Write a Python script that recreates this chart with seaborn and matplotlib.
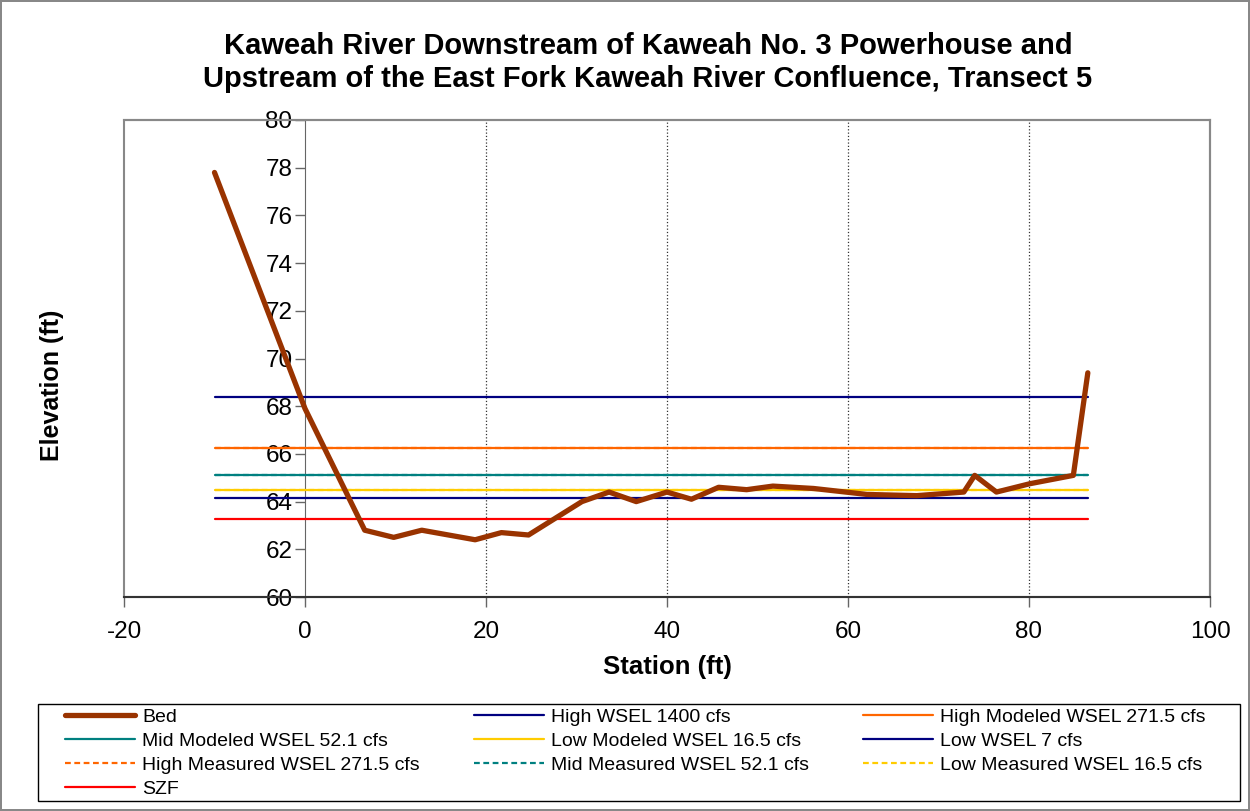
import matplotlib
matplotlib.use("Agg")
import matplotlib.pyplot as plt
from matplotlib.patches import Rectangle
import seaborn as sns
import pandas as pd

# ---- data ----
bed_station = [-10.0, 0.0, 6.6, 9.8, 12.9, 18.8, 21.7, 24.7, 30.6, 33.6, 36.6, 40.0,
               42.7, 45.7, 48.8, 51.7, 56.2, 62.1, 67.6, 72.8, 74.0, 76.4, 80.1, 84.9, 86.5]
bed_elev = [77.8, 67.9, 62.8, 62.5, 62.8, 62.4, 62.7, 62.6, 64.0, 64.4, 64.0, 64.4,
            64.1, 64.6, 64.5, 64.65, 64.55, 64.3, 64.25, 64.4, 65.1, 64.4, 64.75, 65.1, 69.4]
wsel_station = [-10.0, 86.5]
high_wsel_1400 = 68.4
high_modeled_271 = 66.25
mid_modeled_52 = 65.1
low_modeled_16 = 64.5
low_wsel_7 = 64.15
high_measured_271 = 66.25
mid_measured_52 = 65.1
low_measured_16 = 64.5
szf = 63.25

series = [
    ("Bed", None, "#993300", "-", 3.8),
    ("High WSEL 1400 cfs", high_wsel_1400, "#000080", "-", 1.6),
    ("High Modeled WSEL 271.5 cfs", high_modeled_271, "#FF6600", "-", 1.6),
    ("Mid Modeled WSEL 52.1 cfs", mid_modeled_52, "#008080", "-", 1.6),
    ("Low Modeled WSEL 16.5 cfs", low_modeled_16, "#FFCC00", "-", 1.6),
    ("Low WSEL 7 cfs", low_wsel_7, "#000080", "-", 1.6),
    ("High Measured WSEL 271.5 cfs", high_measured_271, "#FF6600", "--", 1.6),
    ("Mid Measured WSEL 52.1 cfs", mid_measured_52, "#008080", "--", 1.6),
    ("Low Measured WSEL 16.5 cfs", low_measured_16, "#FFCC00", "--", 1.6),
    ("SZF", szf, "#FF0000", "-", 1.6),
]

sns.set_style("white")
plt.rcParams["font.family"] = ["Liberation Sans", "DejaVu Sans"]
plt.rcParams["axes.unicode_minus"] = False
plt.rcParams["text.color"] = "black"
plt.rcParams["xtick.color"] = "black"
plt.rcParams["ytick.color"] = "black"

W, H = 1250, 811
fig = plt.figure(figsize=(12.5, 8.11), dpi=100)
fig.patch.set_edgecolor("#888888")
fig.patch.set_linewidth(1.5)
ax = fig.add_axes([124 / W, 1 - 597 / H, (1210 - 124) / W, (597 - 120) / H])

handles = {}
for name, val, color, ls, lw in series:
    if val is None:
        df = pd.DataFrame({"x": bed_station, "y": bed_elev})
    else:
        df = pd.DataFrame({"x": wsel_station, "y": [val, val]})
    sns.lineplot(data=df, x="x", y="y", ax=ax, color=color, linestyle=ls,
                 linewidth=lw, sort=False, estimator=None, label=name, legend=False,
                 zorder=5 if val is None else 3)
    line = ax.lines[-1]
    if ls == "--":
        line.set_dashes((2.6, 1.6))
    handles[name] = line

ax.set_xlim(-20, 100)
ax.set_ylim(60, 80)
ax.set_xticks(range(-20, 101, 20))
ax.set_yticks(range(60, 81, 2))
ax.tick_params(axis="both", labelsize=17.5, length=7, width=1, color="#666666",
               labelcolor="black", direction="out", left=True, bottom=True, pad=2)
ax.tick_params(axis="x", pad=10)

ax.spines["left"].set_position(("data", 0))
ax.spines["left"].set_color("#666666")
ax.spines["bottom"].set_color("#333333")
ax.spines["bottom"].set_linewidth(1.5)
for s in ["top", "right"]:
    ax.spines[s].set_color("#888888")
    ax.spines[s].set_linewidth(1.5)
ax.add_patch(Rectangle((0, 0), 1, 1, transform=ax.transAxes, fill=False,
                       edgecolor="#888888", linewidth=1.5, clip_on=False, zorder=0))

for gx in [20, 40, 60, 80]:
    ax.axvline(gx, color="#333333", linestyle=":", linewidth=0.9, zorder=1)

ax.set_xlabel("")
ax.set_ylabel("")
fig.text(667 / W, 1 - 667 / H, "Station (ft)", fontsize=18.5, fontweight="bold",
         ha="center", va="center", color="black")
fig.text(52 / W, 1 - 385 / H, "Elevation (ft)", rotation=90, fontsize=18,
         fontweight="bold", ha="center", va="center", color="black")

fig.text(648 / W, 1 - 62.5 / H,
         "Kaweah River Downstream of Kaweah No. 3 Powerhouse and\n"
         "Upstream of the East Fork Kaweah River Confluence, Transect 5",
         fontsize=21, fontweight="bold", ha="center", va="center", linespacing=1.24,
         color="black")

order = ["Bed", "Mid Modeled WSEL 52.1 cfs", "High Measured WSEL 271.5 cfs", "SZF",
         "High WSEL 1400 cfs", "Low Modeled WSEL 16.5 cfs", "Mid Measured WSEL 52.1 cfs",
         "High Modeled WSEL 271.5 cfs", "Low WSEL 7 cfs", "Low Measured WSEL 16.5 cfs"]
leg = fig.legend([handles[n] for n in order], order, ncol=3, loc="upper left",
                 bbox_to_anchor=(65 / W, 0.0, (1205 - 65) / W, 1 - 708.5 / H), mode="expand",
                 fontsize=14, frameon=False,
                 handlelength=3.6, handletextpad=0.36, labelspacing=0.33,
                 borderaxespad=0, borderpad=0)
for t in leg.get_texts():
    t.set_color("black")
fig.patches.append(Rectangle((38 / W, 1 - 801 / H), (1240 - 38) / W, (801 - 704) / H,
                             transform=fig.transFigure, fill=False, edgecolor="black",
                             linewidth=1.0, figure=fig))

fig.savefig("out.png", dpi=100)
